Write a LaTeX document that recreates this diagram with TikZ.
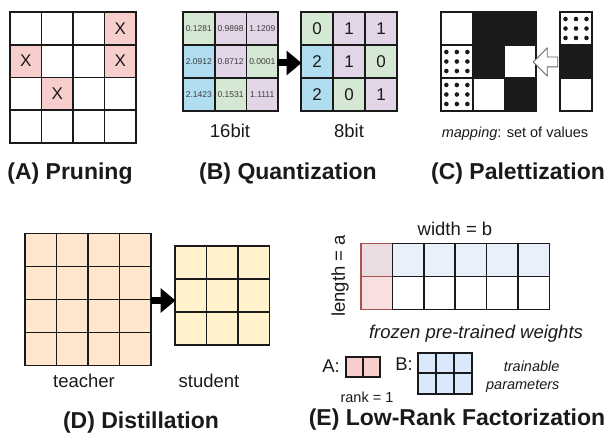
\documentclass[tikz,border=0pt]{standalone}
\usepackage{fontspec}
\setmainfont{Liberation Sans}
\usetikzlibrary{arrows.meta,shapes.arrows}

\definecolor{prunered}{HTML}{F8CECC}
\definecolor{qgreen}{HTML}{D5E8D4}
\definecolor{qpurple}{HTML}{E1D5E7}
\definecolor{qblue}{HTML}{B1DDF0}
\definecolor{teachcol}{HTML}{FFE6CC}
\definecolor{studcol}{HTML}{FFF2CC}
\definecolor{lorablue}{HTML}{DAE8FC}
\definecolor{loratop}{HTML}{E9F0FB}
\definecolor{loramix}{HTML}{EBDCE1}
\definecolor{lorapink}{HTML}{FADFDF}
\definecolor{lorared}{HTML}{A85450}
\definecolor{inkcol}{HTML}{1A1A1A}

\tikzset{
    cell/.style={draw=inkcol, line width=1.7pt},
    titletext/.style={font=\fontsize{23}{26}\selectfont\bfseries, text=inkcol},
    lbltext/.style={font=\fontsize{18.5}{21}\selectfont, text=inkcol},
    smalltext/.style={font=\fontsize{14.5}{17}\selectfont, text=inkcol},
    numtext/.style={font=\fontsize{8.5}{10}\selectfont, text=inkcol!85, inner sep=0pt},
    digittext/.style={font=\fontsize{17}{20}\selectfont, text=inkcol},
    bigarrow/.style={draw=black, line width=7pt, -{Triangle[length=15pt,width=24pt]}},
    hollowarrow/.style={single arrow, draw=black!60, fill=white, line width=0.8pt,
        shape border rotate=180, minimum height=24.5pt, inner xsep=0pt,
        inner ysep=4.5pt, single arrow head extend=9pt}
}

\begin{document}
\begin{tikzpicture}[x=1pt, y=-1pt]

            % the frame
            \useasboundingbox (0, 0) rectangle (610, 433);

            % (A) pruning
            \foreach \c/\r in {3/0,0/1,3/1,1/2} {
                \fill[prunered] ({10+31.5*\c}, {12+32.75*\r}) rectangle ++(31.5, 32.75);
                \node[digittext] (x-\c-\r) at ({10+31.5*(\c+0.5)}, {12+32.75*(\r+0.5)}) {X};
            };
            \foreach \c in {0,...,3} {
                \foreach \r in {0,...,3} {
                    \draw[cell] ({10+31.5*\c}, {12+32.75*\r}) rectangle ++(31.5, 32.75);
                }
            }

            % (B) quantization, 16bit and 8bit
            \foreach \c/\r/\col/\v/\q in {0/0/qgreen/0.1281/0, 1/0/qpurple/0.9898/1, 2/0/qpurple/1.1209/1,
                    0/1/qblue/2.0912/2, 1/1/qpurple/0.8712/1, 2/1/qgreen/0.0001/0,
                    0/2/qblue/2.1423/2, 1/2/qgreen/0.1531/0, 2/2/qpurple/1.1111/1} {
                \draw[cell, fill=\col] ({183+31.7*\c}, {12+33*\r}) rectangle ++(31.7, 33);
                \node[numtext] (w-\c-\r) at ({183+31.7*(\c+0.5)}, {12+33*(\r+0.5)}) {\v};
                \draw[cell, fill=\col] ({301+32*\c}, {12+33*\r}) rectangle ++(32, 33);
                \node[digittext] (q-\c-\r) at ({301+32*(\c+0.5)}, {12+33*(\r+0.5)}) {\q};
            };
            \coordinate (q16) at (277, 63);
            \coordinate (q8) at (301.5, 63);
            \draw[bigarrow] (q16) -- (q8);

            % (C) palettization
            \foreach \c/\r in {1/0,2/0,1/1,2/2} {
                \fill[inkcol] ({441+31.7*\c}, {12+33*\r}) rectangle ++(31.7, 33);
            };
            \fill[inkcol] (560, 45) rectangle ++(32, 33);
            \foreach \x/\y in {456.85/61.5, 456.85/94.5, 576/28.5} {
                \foreach \i in {-1,0,1} {
                    \foreach \j in {-1,0,1} {
                        \fill[inkcol] ({\x+10.5*\i}, {\y+9.5*\j}) circle[radius=2.3pt];
                    }
                }
            };
            \foreach \c in {0,...,2} {
                \foreach \r in {0,...,2} {
                    \draw[cell] ({441+31.7*\c}, {12+33*\r}) rectangle ++(31.7, 33);
                }
                \draw[cell] (560, {12+33*\c}) rectangle ++(32, 33);
            }
            \coordinate (pal-grid) at (536, 62);
            \coordinate (pal-bar) at (560, 62);
            \path (pal-bar) -- node[hollowarrow] (pal-arrow) {} (pal-grid);

            % (D) distillation
            \foreach \c in {0,...,3} {
                \foreach \r in {0,...,3} {
                    \draw[cell, fill=teachcol] ({25+31.5*\c}, {233.5+33*\r}) rectangle ++(31.5, 33);
                }
            }
            \foreach \c in {0,...,2} {
                \foreach \r in {0,...,2} {
                    \draw[cell, fill=studcol] ({175+31.5*\c}, {246+33*\r}) rectangle ++(31.5, 33);
                }
            }
            \coordinate (teach-east) at (151, 300.5);
            \coordinate (stud-west) at (175.5, 300.5);
            \draw[bigarrow] (teach-east) -- (stud-west);

            % (E) low-rank factorization
            \fill[loramix] (361, 243.5) rectangle ++(31.4, 33);
            \fill[lorapink] (361, 276.5) rectangle ++(31.4, 33);
            \draw[line width=1.7pt, draw=lorared] (361, 243.5) rectangle ++(31.4, 66);
            \draw[line width=1.7pt, draw=lorared] (361, 276.5) -- ++(31.4, 0);
            \foreach \c in {1,...,5} {
                \draw[cell, fill=loratop] ({361+31.4*\c}, 243.5) rectangle ++(31.4, 33);
                \draw[cell] ({361+31.4*\c}, 276.5) rectangle ++(31.4, 33);
            };
            \foreach \i in {0,1} {
                \draw[cell, fill=prunered] ({346+17*\i}, 357) rectangle ++(17, 20);
            };
            \foreach \i in {0,...,2} {
                \foreach \j in {0,1} {
                    \draw[cell, line width=2pt, fill=lorablue] ({418+18*\i}, {352.5+20.5*\j}) rectangle ++(18, 20.5);
                }
            }

            % labels
            \node[lbltext] (bit16) at (230, 131) {16bit};
            \node[lbltext] (bit8) at (349, 131) {8bit};
            \node[smalltext] (mapping) at (515, 134) {\itshape mapping\upshape: set of values};
            \node[lbltext] (teacher) at (84, 381) {teacher};
            \node[lbltext] (student) at (209, 381) {student};
            \node[lbltext] (width) at (455, 229) {width = b};
            \node[lbltext, rotate=90] (length) at (340, 276) {length = a};
            \node[lbltext, font=\fontsize{18.5}{21}\selectfont\itshape] (frozen) at (476, 334) {frozen pre-trained weights};
            \node[lbltext] (alabel) at (331, 366) {A:};
            \node[lbltext] (blabel) at (404, 364) {B:};
            \node[smalltext, font=\fontsize{14.5}{18}\selectfont\itshape, align=right, anchor=east] (trainable) at (563, 376.5) {trainable\\parameters};
            \node[smalltext] (rank) at (367, 397) {rank = 1};

            % titles
            \node[titletext] (pruning) at (70, 174) {(A) Pruning};
            \node[titletext] (quant) at (288, 174) {(B) Quantization};
            \node[titletext] (palett) at (518, 174) {(C) Palettization};
            \node[titletext] (distill) at (141, 423) {(D) Distillation};
            \node[titletext] (lowrank) at (457, 420) {(E) Low-Rank Factorization};

\end{tikzpicture}
\end{document}
